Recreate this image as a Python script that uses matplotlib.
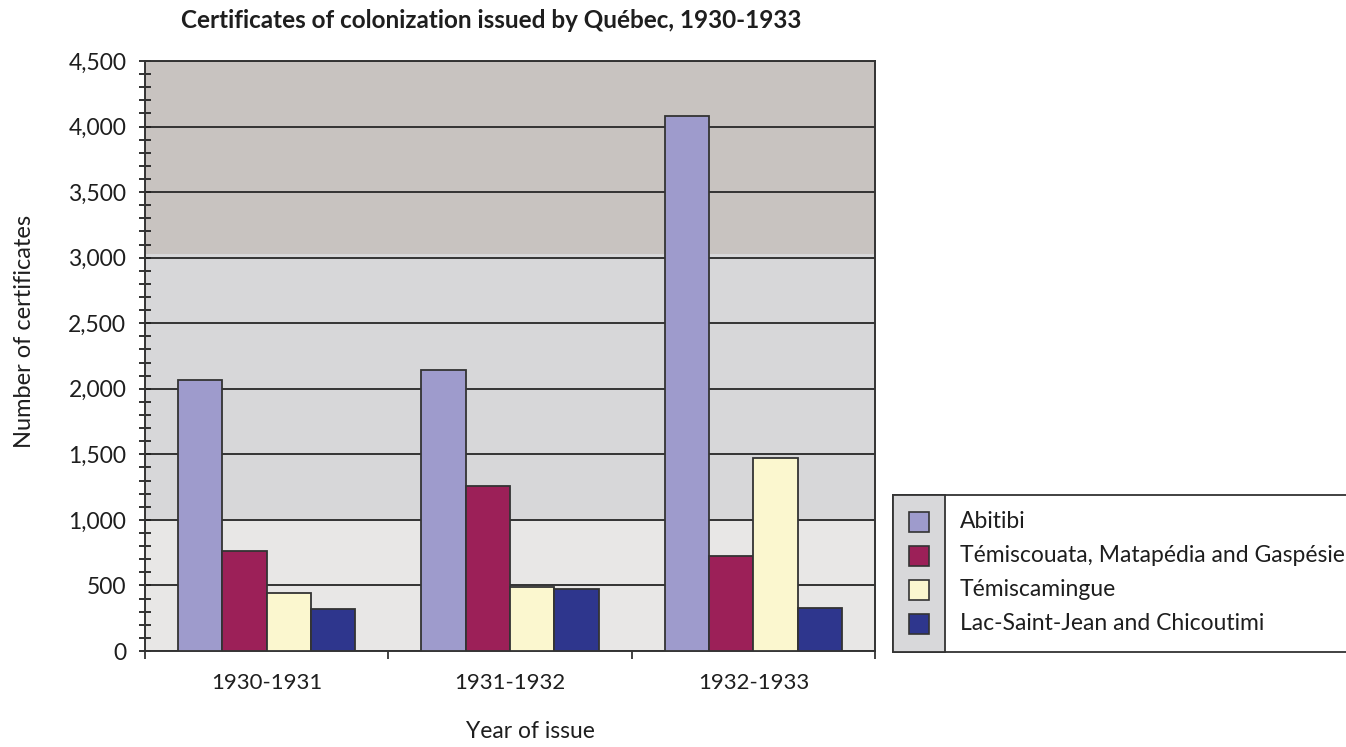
import numpy as np
import matplotlib.pyplot as plt
from matplotlib.patches import Rectangle
from matplotlib.ticker import MultipleLocator, FuncFormatter

plt.rcParams['font.family'] = ['Lato', 'DejaVu Sans']

# données
periodes = ["1930-1931", "1931-1932", "1932-1933"]
regions = ["Abitibi", "Témiscouata, Matapédia and Gaspésie",
           "Témiscamingue", "Lac-Saint-Jean and Chicoutimi"]
abitibi = [2065, 2143, 4080]
temiscouata = [763, 1257, 723]
temiscamingue = [446, 489, 1473]
lac_saint_jean = [318, 471, 328]
series = [abitibi, temiscouata, temiscamingue, lac_saint_jean]
couleurs = ["#9e9bcc", "#9c2058", "#fbf7cf", "#2e368d"]

W, H = 1346, 747
fig = plt.figure(figsize=(W / 100, H / 100), dpi=100)


def fx(px):
    return px / W


def fy(py):
    return 1 - py / H


ax = fig.add_axes([fx(145), fy(651), fx(730), 590 / H])

# bandes de fond
ax.axhspan(0, 1000, color="#e8e7e6", zorder=0, lw=0)
ax.axhspan(1000, 3030, color="#d7d7d9", zorder=0, lw=0)
ax.axhspan(3030, 4500, color="#c8c3c0", zorder=0, lw=0)

x = np.arange(len(periodes))
largeur = 0.182
for i, (vals, coul) in enumerate(zip(series, couleurs)):
    ax.bar(x + (i - 1.5) * largeur, vals, largeur, color=coul,
           edgecolor="#333333", linewidth=1.3, zorder=3)

ax.set_xlim(-0.5, 2.5)
ax.set_ylim(0, 4500)

ax.yaxis.set_major_locator(MultipleLocator(500))
ax.yaxis.set_minor_locator(MultipleLocator(100))
ax.yaxis.set_major_formatter(FuncFormatter(lambda v, p: f"{int(v):,}"))
ax.grid(axis="y", which="major", color="#333333", lw=1.4, zorder=1)
ax.set_axisbelow(True)
ax.tick_params(axis="y", which="both", direction="inout", length=9,
               width=1.3, color="#222222", labelsize=16.5, pad=9,
               labelcolor="#1e1e1e")

ax.set_xticks([-0.5, 0.5, 1.5, 2.5])
ax.set_xticklabels([])
ax.set_xticks(x, minor=True)
ax.set_xticklabels(periodes, minor=True)
ax.tick_params(axis="x", which="major", direction="out", length=6,
               width=1.2, color="#222222")
ax.tick_params(axis="x", which="minor", length=0, labelsize=16, pad=16,
               labelcolor="#1e1e1e")

for cote in ax.spines.values():
    cote.set_color("#333333")
    cote.set_linewidth(1.4)

fig.text(fx(491), fy(20), "Certificates of colonization issued by Québec, 1930-1933",
         ha="center", va="center", fontsize=17.5, fontweight="bold", color="#1e1e1e")
fig.text(fx(25), fy(331), "Number of certificates", rotation=90,
         ha="center", va="center", fontsize=17, color="#1e1e1e")
fig.text(fx(530), fy(731), "Year of issue", ha="center", va="center",
         fontsize=16.5, color="#1e1e1e")

# légende manuelle
cadre = Rectangle((fx(893), fy(652)), fx(1360 - 893), (652 - 495) / H,
                  transform=fig.transFigure, facecolor="white",
                  edgecolor="#333333", lw=1.3)
fig.add_artist(cadre)
colonne = Rectangle((fx(893), fy(652)), fx(945 - 893), (652 - 495) / H,
                    transform=fig.transFigure, facecolor="#d8d8da",
                    edgecolor="#333333", lw=1.3)
fig.add_artist(colonne)
for k, (nom, coul) in enumerate(zip(regions, couleurs)):
    yc = 522 + 34 * k
    fig.add_artist(Rectangle((fx(909), fy(yc + 10)), fx(20), 20 / H,
                             transform=fig.transFigure, facecolor=coul,
                             edgecolor="#333333", lw=1.2))
    fig.text(fx(960), fy(yc), nom, ha="left", va="center", fontsize=16.5,
             color="#1e1e1e")

plt.savefig("out.png", dpi=100)
